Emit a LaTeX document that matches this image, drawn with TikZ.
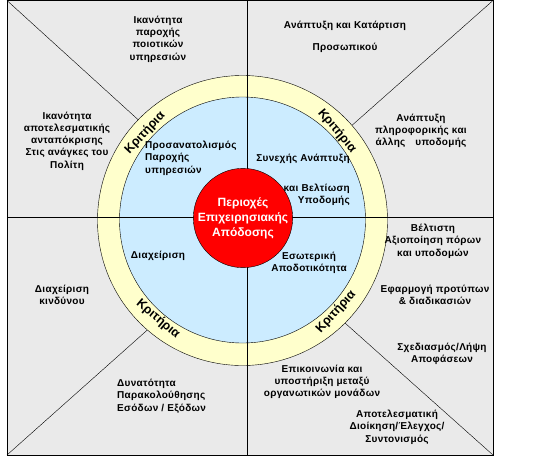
\documentclass[tikz,border=0pt]{standalone}
\usepackage{fontspec}
\setmainfont{Liberation Sans}
\definecolor{cgrey}{HTML}{EAEAEA}
\definecolor{cyellow}{HTML}{FFFFCC}
\definecolor{cblue}{HTML}{CCECFF}
\definecolor{cred}{HTML}{FF0000}

\begin{document}
\begin{tikzpicture}[x=1pt,y=-1pt,
  lbl/.style={align=center,font=\fontsize{10}{12.3}\selectfont\bfseries\addfontfeatures{LetterSpace=3},inner sep=0pt},
  crit/.style={font=\fontsize{12.5}{14}\selectfont\bfseries,inner sep=0pt}]
  \useasboundingbox (0,0) rectangle (533,456);
  % frame and quadrants
  \coordinate (tl) at (7,0.5);
  \coordinate (tr) at (493,0.5);
  \coordinate (bl) at (7,455);
  \coordinate (br) at (493,455);
  \coordinate (top) at (247,0.5);
  \coordinate (bot) at (247,455);
  \coordinate (lft) at (7,217);
  \coordinate (rgt) at (493,217);
  \draw[fill=cgrey] (tl) rectangle (br);
  % rings
  \node[draw,circle,fill=cyellow,minimum size=290pt,inner sep=0pt] (ring) at (242.5,220.5) {};
  \node[draw,circle,fill=cblue,minimum size=246pt,inner sep=0pt] (inner) at (242.5,220) {};
  \draw (top) -- (bot);
  \draw (lft) -- (rgt);
  \draw (tl) -- (ring.136);
  \draw (tr) -- (ring.41);
  \draw (bl) -- (ring.-131);
  \draw (br) -- (ring.-45);
  % core
  \node[draw,circle,fill=cred,minimum size=95pt,inner sep=0pt,text=white,align=center,
    font=\fontsize{12}{15}\selectfont\bfseries] (core) at (243,218)
    {Περιοχές\\Επιχειρησιακής\\Απόδοσης};
  % criteria on the ring
  \node[crit,rotate=47] (crit1) at (145,133) {Κριτήρια};
  \node[crit,rotate=-50] (crit2) at (337,131) {Κριτήρια};
  \node[crit,rotate=-40] (crit3) at (158,319) {Κριτήρια};
  \node[crit,rotate=48] (crit4) at (336,312) {Κριτήρια};
  % inner labels
  \node[lbl,align=left,anchor=west] (orient) at (145,158) {Προσανατολισμός\\Παροχής\\υπηρεσιών};
  \node[lbl] (devel) at (303,159) {Συνεχής Ανάπτυξη};
  \node[lbl,align=right,anchor=east] (improve) at (350,195) {και Βελτίωση\\Υποδομής};
  \node[lbl] (manage) at (158,256) {Διαχείριση};
  \node[lbl] (effic) at (309,263) {Εσωτερική\\Αποδοτικότητα};
  % outer labels
  \node[lbl] (quality) at (158,39) {Ικανότητα\\παροχής\\ποιοτικών\\υπηρεσιών};
  \node[lbl] (respond) at (67,141) {Ικανότητα\\αποτελεσματικής\\ανταπόκρισης\\Στις ανάγκες του\\Πολίτη};
  \node[lbl] (staff) at (345,37) {Ανάπτυξη και Κατάρτιση\\[10pt]Προσωπικού};
  \node[lbl] (infra) at (421,131) {Ανάπτυξη\\πληροφορικής και\\άλλης\quad υποδομής};
  \node[lbl] (resources) at (433,241) {Βέλτιστη\\Αξιοποίηση πόρων\\και υποδομών};
  \node[lbl] (standards) at (435,295) {Εφαρμογή προτύπων\\\& διαδικασιών};
  \node[lbl] (planning) at (442,354) {Σχεδιασμός/Λήψη\\Αποφάσεων};
  \node[lbl] (control) at (397,427) {Αποτελεσματική\\Διοίκηση/Έλεγχος/\\Συντονισμός};
  \node[lbl] (comms) at (322,382) {Επικοινωνία και\\υποστήριξη μεταξύ\\οργανωτικών μονάδων};
  \node[lbl,align=left,anchor=west] (monitor) at (117,396) {Δυνατότητα\\Παρακολούθησης\\Εσόδων / Εξόδων};
  \node[lbl] (risk) at (62,295) {Διαχείριση\\κινδύνου};
\end{tikzpicture}
\end{document}
